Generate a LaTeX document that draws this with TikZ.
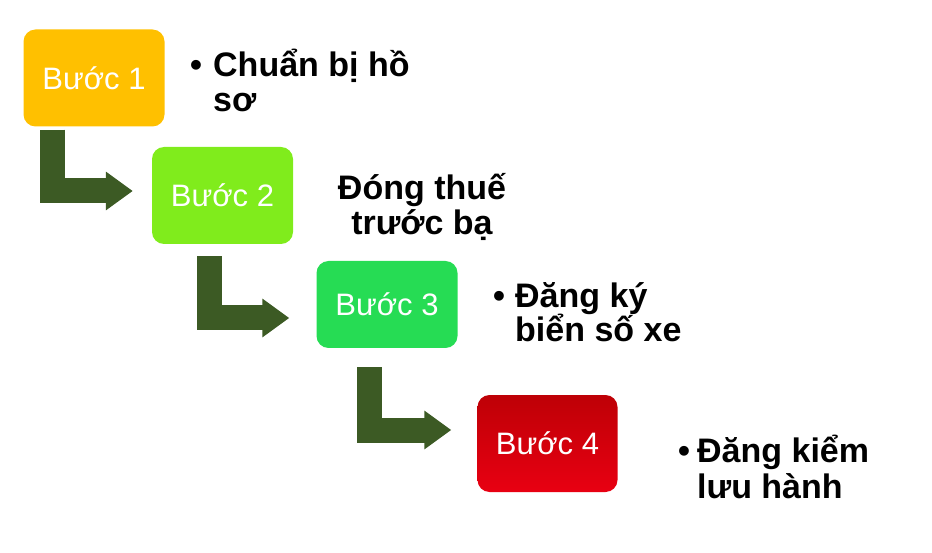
\documentclass[tikz,border=0pt]{standalone}
\usepackage{fontspec}
\setmainfont{Liberation Sans}
\usetikzlibrary{positioning, arrows.meta, calc}

\definecolor{stepone}{HTML}{FFC000}
\definecolor{steptwo}{HTML}{80EC1C}
\definecolor{stepthree}{HTML}{26DC54}
\definecolor{stepfourtop}{HTML}{BE0006}
\definecolor{stepfourbot}{HTML}{E80012}
\definecolor{flowgreen}{HTML}{3C5A24}

\begin{document}
\begin{tikzpicture}[
  x=1pt, y=-1pt,
  stepbox/.style={rounded corners=12pt, minimum width=141pt, minimum height=97pt, inner sep=0pt, text=white, font=\fontsize{31}{36}\selectfont},
  steplabel/.style={inner sep=0pt, align=left, font=\fontsize{34}{35}\selectfont\bfseries},
  flow/.style={draw=flowgreen, line width=25pt, -{Triangle[length=27pt, width=37pt]}}
]
\useasboundingbox (0,0) rectangle (932,553);

% Step boxes
\node[stepbox, fill=stepone] (b1) at (94,78) {Bước 1};
\node[stepbox, fill=steptwo] (b2) at (222.5,195.5) {Bước 2};
\node[stepbox, fill=stepthree, minimum height=87pt] (b3) at (387,304.5) {Bước 3};
\node[stepbox, top color=stepfourtop, bottom color=stepfourbot, minimum width=140pt] (b4) at (547.5,443.5) {Bước 4};

% Elbow arrows
\draw[flow] ($(b1.south west)+(29.5,3)$) |- ($(b2.west)+(-19,-4.5)$);
\draw[flow] ($(b2.south west)+(58,12)$) |- ($(b3.west)+(-27,13.5)$);
\draw[flow] ($(b3.south west)+(53.5,19)$) |- ($(b4.west)+(-26,-13.5)$);

% Step texts (base = last line)
\node[steplabel, anchor=base west] (l1) at (190,112) {\makebox[23pt][l]{•}Chuẩn bị hồ\\\hspace*{23pt}sơ};
\node[steplabel, align=center, anchor=base] (l2) at (422,235) {Đóng thuế\\trước bạ};
\node[steplabel, anchor=base west] (l3) at (493,342) {\makebox[22pt][l]{•}Đăng ký\\\hspace*{22pt}biển số xe};
\node[steplabel, anchor=base west, font=\fontsize{34}{36}\selectfont\bfseries] (l4) at (678,498) {\makebox[19pt][l]{•}Đăng kiểm\\\hspace*{19pt}lưu hành};

\end{tikzpicture}
\end{document}
